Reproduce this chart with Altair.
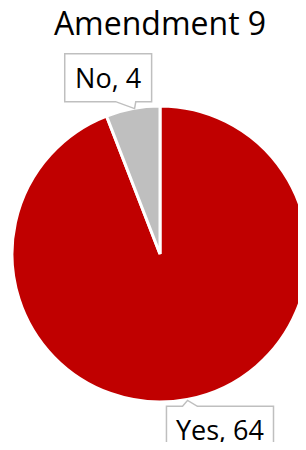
import altair as alt
import pandas as pd
import numpy as np

categories = ["Yes", "No"]
values = [64, 4]
colors = ["#C00000", "#BFBFBF"]
title_text = ["Amendment 9"]

# label placement (Excel-like "best fit" callouts)
total = sum(values)
cum = np.cumsum(values)
mid = (cum - np.array(values) / 2) / total * 2 * np.pi
shift = np.deg2rad(-7)
L = 185
df = pd.DataFrame({
    "cat": categories,
    "value": values,
    "order": list(range(len(values))),
    "label": [f"{c}, {v}" for c, v in zip(categories, values)],
    "lx": L * np.sin(mid + shift),
    "ly": L * np.cos(mid + shift),
})
tdf = pd.DataFrame({"t": title_text})

# callout box shapes (unit = 24px), with a small tail pointing to the slice
path_yes = "M-2.06,-1 L-1.39,-1 L-1.18,-1.25 L-0.77,-1 L2.40,-1 L2.40,1 L-2.06,1 Z"
path_no = "M-1.64,-1 L1.98,-1 L1.98,1 L1.32,1 L1.27,1.29 L0.48,1 L-1.64,1 Z"

xs = alt.Scale(domain=[-152, 138], nice=False, zero=False)
ys = alt.Scale(domain=[-188, 246], nice=False, zero=False)

pie = alt.Chart(df).mark_arc(radius=148, stroke="white", strokeWidth=3).encode(
    x=alt.X(datum=0, type="quantitative", scale=xs, axis=None),
    y=alt.Y(datum=0, type="quantitative", scale=ys, axis=None),
    theta=alt.Theta("value:Q", stack=True),
    color=alt.Color("cat:N", scale=alt.Scale(domain=categories, range=colors), legend=None),
    order=alt.Order("order:Q"),
)

boxes = alt.Chart(df).mark_point(
    size=2304, filled=True, fill="white", stroke="#BFBFBF", strokeWidth=1.5, opacity=1
).encode(
    x=alt.X("lx:Q", scale=xs, axis=None),
    y=alt.Y("ly:Q", scale=ys, axis=None),
    shape=alt.Shape("cat:N", scale=alt.Scale(domain=categories, range=[path_yes, path_no]), legend=None),
)

text = alt.Chart(df).mark_text(
    font="Open Sans", fontSize=27, baseline="alphabetic", align="center", dx=4, dy=10, color="black"
).encode(
    x=alt.X("lx:Q", scale=xs, axis=None),
    y=alt.Y("ly:Q", scale=ys, axis=None),
    text="label:N",
)

title = alt.Chart(tdf).mark_text(
    font="Open Sans", fontSize=32, baseline="alphabetic", align="center", color="black"
).encode(
    x=alt.value(152),
    y=alt.value(27),
    text="t:N",
)

chart = alt.layer(pie, boxes, text, title).properties(
    width=290,
    height=434,
    padding=0,
    autosize=alt.AutoSizeParams(type="none"),
).configure_view(stroke=None)

chart.save("out.html", embed_options={"renderer": "svg", "actions": False})
